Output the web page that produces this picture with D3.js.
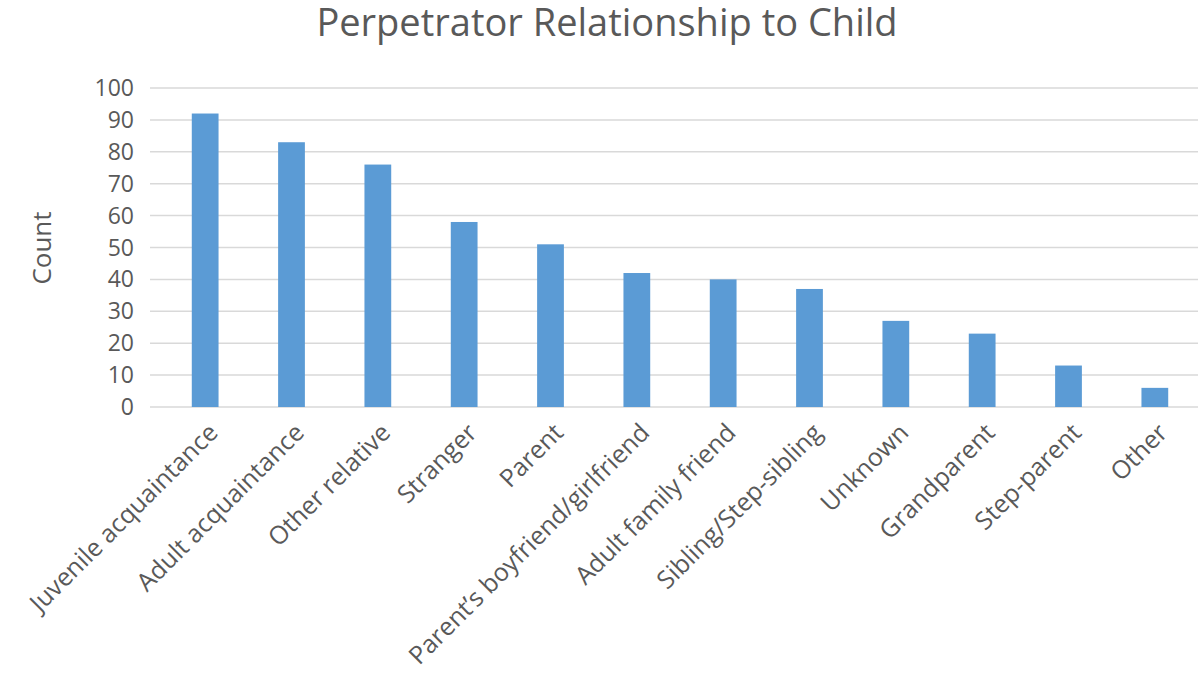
<!DOCTYPE html>
<html><head><meta charset="utf-8">
<script src="https://cdn.jsdelivr.net/npm/d3@7/dist/d3.min.js"></script>
<style>body{margin:0;background:#fff}</style></head>
<body><svg id="c" width="1200" height="696"></svg>
<script>
const categories=["Juvenile acquaintance","Adult acquaintance","Other relative","Stranger","Parent","Parent’s boyfriend/girlfriend","Adult family friend","Sibling/Step-sibling","Unknown","Grandparent","Step-parent","Other"];
const counts=[92,83,76,58,51,42,40,37,27,23,13,6];
const yTicks=[0,10,20,30,40,50,60,70,80,90,100];
const svg=d3.select("#c");
const font="'Open Sans', 'Liberation Sans', sans-serif";
const x=d3.scaleBand().domain(categories).range([162,1198]).paddingInner(0.69).paddingOuter(0.345);
const y=d3.scaleLinear().domain([0,100]).range([407,88]);
svg.append("g").selectAll("line").data(yTicks).join("line")
 .attr("x1",150).attr("x2",1198).attr("y1",d=>y(d)).attr("y2",d=>y(d))
 .attr("stroke","#d9d9d9").attr("stroke-width",1.5);
svg.append("g").selectAll("text").data(yTicks).join("text")
 .attr("x",134).attr("y",d=>y(d)).attr("dy","0.35em").attr("text-anchor","end")
 .attr("font-family",font).attr("font-size",23).attr("fill","#595959").text(d=>d);
svg.append("g").selectAll("rect").data(counts).join("rect")
 .attr("x",(d,i)=>x(categories[i])).attr("width",x.bandwidth())
 .attr("y",d=>y(d)).attr("height",d=>y(0)-y(d)).attr("fill","#5b9bd5");
svg.append("g").selectAll("text").data(categories).join("text")
 .attr("transform",d=>`translate(${x(d)+x.bandwidth()/2+8},${428}) rotate(-45)`)
 .attr("text-anchor","end").attr("dy","0.35em")
 .attr("font-family",font).attr("font-size",25).attr("fill","#595959").text(d=>d);
svg.append("text").attr("x",607).attr("y",36).attr("text-anchor","middle")
 .attr("font-family",font).attr("font-size",38).attr("fill","#595959").text("Perpetrator Relationship to Child");
svg.append("text").attr("transform","translate(42,248) rotate(-90)").attr("text-anchor","middle").attr("dy","0.35em")
 .attr("font-family",font).attr("font-size",26).attr("fill","#595959").text("Count");
</script></body></html>
